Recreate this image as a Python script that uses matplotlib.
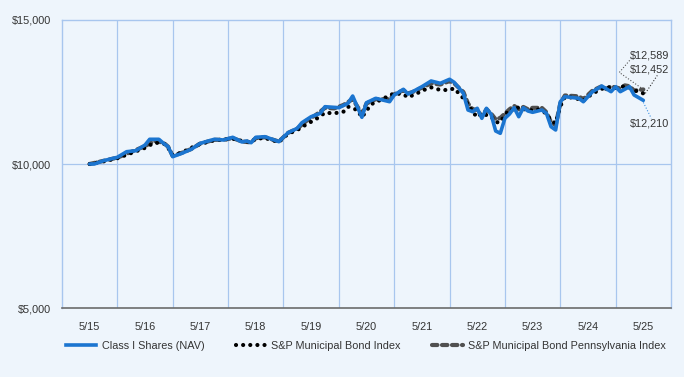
import matplotlib
matplotlib.use("Agg")
import matplotlib.pyplot as plt
import matplotlib.transforms as mtransforms
from matplotlib.lines import Line2D

plt.rcParams['font.family'] = ['Liberation Sans', 'DejaVu Sans']

# months since 5/2015 and growth of $10,000
nav_months = [0, 1, 3, 6, 8, 10, 12, 13, 15, 16, 17, 18, 20, 22, 24, 27, 29, 31, 33, 34,
              35, 36, 38, 41, 43, 45, 46, 48, 50, 51, 54, 56, 57, 59, 60, 62, 65, 66, 68, 69,
              70, 72, 74, 76, 78, 79, 81, 82, 83, 84, 85, 86, 87, 88, 89, 90, 91, 92, 93, 94,
              95, 96, 98, 99, 100, 101, 102, 103, 106, 107, 109, 111, 113, 114, 115, 117, 118, 120]
nav = [10000, 10000, 10115, 10233, 10427, 10462, 10660, 10858, 10858, 10719, 10601, 10254,
       10372, 10511, 10719, 10858, 10834, 10927, 10764, 10799, 10740, 10927, 10948, 10775,
       11087, 11240, 11434, 11643, 11761, 11990, 11955, 12108, 12361, 11622, 12129, 12281,
       12163, 12396, 12594, 12431, 12511, 12684, 12882, 12802, 12941, 12837, 12455, 11875,
       11816, 11934, 11587, 11934, 11726, 11146, 11066, 11587, 11736, 11955, 11643, 11955,
       11840, 11795, 11875, 11761, 11295, 11181, 12163, 12337, 12281, 12163, 12511, 12708,
       12511, 12684, 12511, 12684, 12396, 12210]

muni_months = [0, 3, 6, 9, 12, 14, 16, 17, 18, 20, 22, 24, 27, 29, 31, 33, 35, 36, 38, 41,
               43, 45, 47, 49, 51, 53, 55, 56, 58, 59, 61, 63, 66, 68, 69, 71, 72, 74, 76, 78,
               79, 80, 81, 82, 83, 84, 85, 86, 87, 88, 89, 90, 91, 92, 93, 95, 97, 98, 99, 100,
               101, 102, 103, 105, 107, 109, 110, 112, 113, 114, 116, 117, 118, 120]
muni = [10000, 10090, 10200, 10380, 10560, 10740, 10720, 10560, 10300, 10400, 10560, 10700,
        10820, 10850, 10880, 10800, 10760, 10880, 10900, 10760, 11050, 11180, 11380, 11552,
        11780, 11760, 11816, 11990, 11875, 11622, 12073, 12222, 12455, 12420, 12316, 12455,
        12545, 12660, 12570, 12570, 12629, 12455, 12281, 12073, 11816, 11622, 11761, 11700,
        11650, 11450, 11450, 11700, 11900, 11850, 11980, 11850, 11900, 11850, 11750, 11500,
        11413, 12000, 12330, 12300, 12200, 12450, 12530, 12680, 12640, 12640, 12700, 12650,
        12560, 12452]

pa_months = [0, 3, 6, 9, 12, 14, 16, 17, 18, 20, 22, 24, 27, 29, 31, 33, 35, 36, 38, 41,
             43, 45, 47, 49, 51, 53, 55, 57, 59, 60, 62, 65, 66, 68, 69, 70, 72, 74, 76, 78,
             79, 81, 82, 83, 84, 85, 86, 87, 88, 89, 90, 91, 92, 93, 94, 95, 96, 98, 99, 100,
             101, 102, 103, 106, 107, 109, 111, 112, 113, 115, 116, 117, 118, 120]
pa = [10000, 10110, 10220, 10420, 10620, 10800, 10740, 10600, 10280, 10390, 10520, 10710,
      10840, 10840, 10900, 10780, 10750, 10900, 10930, 10780, 11080, 11230, 11500, 11700,
      11950, 11930, 12050, 12250, 11750, 12100, 12250, 12250, 12420, 12560, 12450, 12500,
      12650, 12800, 12760, 12880, 12800, 12500, 12100, 11900, 11880, 11650, 11900, 11750,
      11550, 11600, 11750, 11900, 12020, 11900, 11980, 11900, 11950, 11950, 11800, 11450,
      11350, 12100, 12380, 12350, 12250, 12550, 12700, 12600, 12700, 12620, 12730, 12700,
      12550, 12589]

year_labels = ['5/15', '5/16', '5/17', '5/18', '5/19', '5/20', '5/21', '5/22', '5/23', '5/24', '5/25']
y_ticks = [5000, 10000, 15000]
y_tick_labels = ['$5,000', '$10,000', '$15,000']
series_names = ['Class I Shares (NAV)', 'S&P Municipal Bond Index',
                'S&P Municipal Bond Pennsylvania Index']

bg = '#EEF5FC'
grid_c = '#A8C6EE'
txt = '#333333'
blue = '#1B75D0'
dot_style = (0, (0.01, 1.7))
dash_style = (0, (1.3, 1.1))


def to_x(months):
    # year slots run between gridlines; 5/15 sits mid-slot
    return [0.5 + m / 12.0 for m in months]


fig = plt.figure(figsize=(6.84, 3.77), dpi=100, facecolor=bg)
ax = fig.add_axes([62 / 684, 1 - 308 / 377, (671 - 62) / 684, (308 - 20) / 377])
ax.set_facecolor(bg)

ax.set_xlim(0, 11)
ax.set_ylim(5000, 15000)
ax.set_xticks([i + 0.5 for i in range(11)])
ax.set_xticklabels(year_labels)
ax.set_yticks(y_ticks)
ax.set_yticklabels(y_tick_labels)
ax.tick_params(length=0, labelsize=7.8, labelcolor=txt)
ax.tick_params(axis='x', pad=10)
ax.tick_params(axis='y', pad=8)

for i in range(1, 11):
    ax.axvline(i, color=grid_c, lw=0.9, zorder=1)
ax.axhline(10000, color=grid_c, lw=0.9, zorder=1)
for s in ['top', 'left', 'right']:
    ax.spines[s].set_color(grid_c)
    ax.spines[s].set_linewidth(1.0)
ax.spines['bottom'].set_color('#6B6B6B')
ax.spines['bottom'].set_linewidth(1.2)

ax.plot(to_x(pa_months), pa, color='#505050', lw=3.0, ls=dash_style,
        dash_capstyle='round', zorder=2)
ax.plot(to_x(muni_months), muni, color='black', lw=3.0, ls=dot_style,
        dash_capstyle='round', zorder=3)
ax.plot(to_x(nav_months), nav, color=blue, lw=2.6, solid_capstyle='round', zorder=4)


# end labels with leader lines (offsets in inches from the last point)
def leader(xm, yv, xs, ys, color):
    tr = fig.dpi_scale_trans + mtransforms.ScaledTranslation(to_x([xm])[0], yv, ax.transData)
    ax.plot(xs, ys, color=color, lw=0.8, ls=':', transform=tr, clip_on=False, zorder=5)


end_m = nav_months[-1]
leader(end_m, pa[-1], [0, -0.24, -0.12], [0, 0.17, 0.31], '#555555')
leader(end_m, muni[-1], [0.02, 0.14], [0, 0.18], '#333333')
leader(end_m, nav[-1], [0, 0.08], [-0.02, -0.18], '#3B8FE0')

lab_x = 630 / 684
fig.text(lab_x, 1 - 56 / 377, '${:,}'.format(pa[-1]), fontsize=7.8, color=txt, va='center')
fig.text(lab_x, 1 - 70 / 377, '${:,}'.format(muni[-1]), fontsize=7.8, color=txt, va='center')
fig.text(lab_x, 1 - 124 / 377, '${:,}'.format(nav[-1]), fontsize=7.8, color=txt, va='center')

handles = [
    Line2D([], [], color=blue, lw=2.6),
    Line2D([], [], color='black', lw=3.0, ls=dot_style, dash_capstyle='round'),
    Line2D([], [], color='#505050', lw=3.0, ls=dash_style, dash_capstyle='round'),
]
leg = fig.legend(handles, series_names, loc='center', bbox_to_anchor=(366 / 684, 1 - 346 / 377),
                 ncol=3, frameon=False, fontsize=7.8, handlelength=2.8, handletextpad=0.5,
                 columnspacing=2.9, labelcolor=txt)

plt.savefig('out.png', dpi=100, facecolor=bg)
